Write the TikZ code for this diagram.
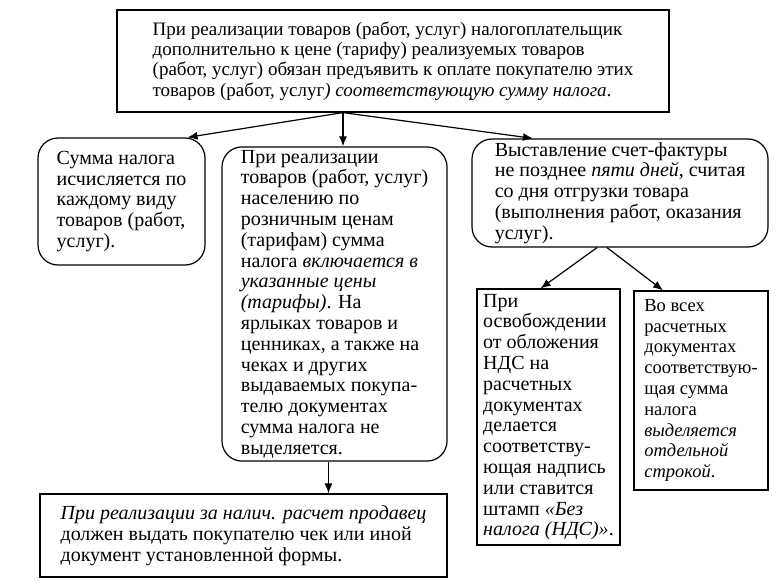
\documentclass[tikz,border=0pt]{standalone}
\usepackage{fontspec}
\setmainfont{Liberation Serif}
\usetikzlibrary{positioning,arrows.meta,calc}

\begin{document}
\begin{tikzpicture}[
  x=1pt, y=-1pt,
  >={Latex[length=10pt,width=8pt]},
  font=\fontsize{20}{20.8}\selectfont,
  sqbox/.style ={draw, align=left, inner sep=3pt, line width=1.2pt},
  rndbox/.style={draw, align=left, inner sep=3pt, line width=1.2pt, rounded corners=20pt},
  arr/.style   ={->, line width=1.2pt}
]
\useasboundingbox (0,0) rectangle (784,586);

% --- top statement ---
\node[sqbox, minimum width=552pt, minimum height=102pt, font=\fontsize{19}{20.4}\selectfont] (main) at (393,61)
  {При реализации товаров (работ, услуг) налогоплательщик\\
   дополнительно к цене (тарифу) реализуемых товаров\\
   (работ, услуг) обязан предъявить к оплате покупателю этих\\
   товаров (работ, услуг\textit{) соответствующую сумму налога}.};

% --- second row ---
\node[rndbox, minimum width=167pt, minimum height=127pt] (calc) at (121.5,201.5)
  {Сумма налога\\исчисляется по\\каждому виду\\товаров (работ,\\услуг).};
\node[rndbox, minimum width=225pt, minimum height=312pt] (retail) at (334.5,304)
  {При реализации\\товаров (работ, услуг)\\населению по\\розничным ценам\\
   (тарифам) сумма\\налога \textit{включается в}\\\textit{указанные цены}\\
   \textit{(тарифы)}. На\\ярлыках товаров и\\ценниках, а также на\\чеках и других\\
   выдаваемых покупа-\\телю документах\\сумма налога не\\выделяется.};
\node[rndbox, minimum width=296pt, minimum height=108pt] (invoice) at (620,193)
  {Выставление счет-фактуры\\не позднее \textit{пяти дней}, считая\\со дня отгрузки товара\\
   (выполнения работ, оказания\\услуг).};

% --- under the invoice ---
\node[sqbox, minimum width=143pt, minimum height=256pt] (exempt) at (548.5,417)
  {При\\освобождении\\от обложения\\НДС на\\расчетных\\документах\\делается\\
   соответству-\\ющая надпись\\или ставится\\штамп \textit{«Без}\\\textit{налога (НДС)»}.};
\node[sqbox, minimum width=134pt, minimum height=199pt, font=\fontsize{18.5}{20.8}\selectfont] (separ) at (701,390.5)
  {Во всех\\расчетных\\документах\\соответствую-\\щая сумма\\налога\\
   \textit{выделяется}\\\textit{отдельной}\\\textit{строкой}.};

% --- cash sale ---
\node[sqbox, minimum width=407pt, minimum height=83pt] (cash) at (243.5,535.5)
  {\textit{При реализации за налич. расчет продавец}\\
   должен выдать покупателю чек или иной\\документ установленной формы.};

% --- connectors ---
\coordinate (fork) at ($(main.south)+(-50,0)$);
\draw[arr] (fork) -- ($(calc.north)+(66,0)$);
\draw[arr] (fork) -- (fork |- retail.north);
\draw[arr] (fork) -- ($(invoice.north)+(-87,0)$);

\draw[arr] ($(invoice.south)+(-23,0)$) -- ($(exempt.north)+(-8,0)$);
\draw[arr] ($(invoice.south)+(-13,0)$) -- ($(separ.north)+(-38,0)$);

\draw[arr] ($(retail.south)+(-6,0)$) coordinate (drop) -- (drop |- cash.north);

\end{tikzpicture}
\end{document}
